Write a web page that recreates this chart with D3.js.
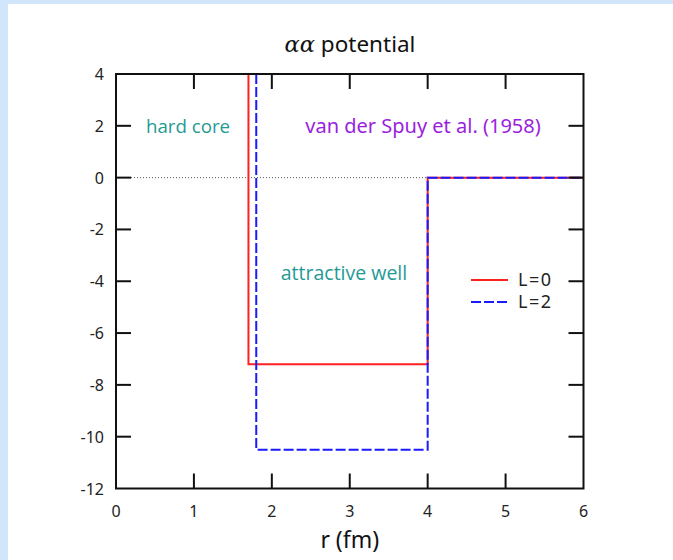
<!DOCTYPE html>
<html>
<head>
<meta charset="utf-8">
<script src="https://cdn.jsdelivr.net/npm/d3@7"></script>
<style>
  html, body { margin: 0; padding: 0; background: #fff; }
  svg { display: block; }
</style>
</head>
<body>
<svg id="chart" width="673" height="560"></svg>
<script>
// Square-well alpha-alpha potential (van der Spuy et al., 1958)
const xTicks = [0, 1, 2, 3, 4, 5, 6];
const yTicks = [-12, -10, -8, -6, -4, -2, 0, 2, 4];
const seriesNames = ["L=0", "L=2"];
const seriesColors = ["#ff2020", "#1a1aff"];
// r (fm), V (MeV) corners of each potential curve
const rL0 = [1.7, 1.7, 4.0, 4.0, 6.0];
const vL0 = [4.0, -7.2, -7.2, 0.0, 0.0];
const rL2 = [1.8, 1.8, 4.0, 4.0, 6.0];
const vL2 = [4.0, -10.5, -10.5, 0.0, 0.0];

const svg = d3.select("#chart");
const W = 673, H = 560;
const m = { left: 116, right: 583.5, top: 74, bottom: 488.5 };

// page frame
svg.append("rect").attr("width", W).attr("height", H).attr("fill", "#d2e6fb");
svg.append("rect").attr("x", 8).attr("y", 4).attr("width", W - 8).attr("height", H - 4).attr("fill", "#fff");

const x = d3.scaleLinear().domain([0, 6]).range([m.left, m.right]);
const y = d3.scaleLinear().domain([-12, 4]).range([m.bottom, m.top]);

const tickFont = "'Noto Sans', 'DejaVu Sans', sans-serif";
const noteFont = "'Open Sans', 'Noto Sans', sans-serif";

// zero reference line
svg.append("line")
  .attr("x1", x(0)).attr("x2", x(6)).attr("y1", y(0)).attr("y2", y(0))
  .attr("stroke", "#555").attr("stroke-width", 1).attr("stroke-dasharray", "1,2");

// curves
const line = d3.line().x(d => x(d[0])).y(d => y(d[1]));
const curveL0 = rL0.map((r, i) => [r, vL0[i]]);
const curveL2 = rL2.map((r, i) => [r, vL2[i]]);
svg.append("path").datum(curveL0).attr("d", line)
  .attr("fill", "none").attr("stroke", seriesColors[0]).attr("stroke-width", 2);
svg.append("path").datum(curveL2).attr("d", line)
  .attr("fill", "none").attr("stroke", seriesColors[1]).attr("stroke-width", 2)
  .attr("stroke-dasharray", "10,3");

// axes: inward ticks on all four sides
const tl = 15;
const axisG = svg.append("g").attr("stroke", "#111").attr("stroke-width", 2).attr("fill", "none");
axisG.append("rect").attr("x", x(0)).attr("y", y(4)).attr("width", x(6) - x(0)).attr("height", y(-12) - y(4));
xTicks.slice(1, -1).forEach(t => {
  axisG.append("line").attr("x1", x(t)).attr("x2", x(t)).attr("y1", y(-12)).attr("y2", y(-12) - tl);
  axisG.append("line").attr("x1", x(t)).attr("x2", x(t)).attr("y1", y(4)).attr("y2", y(4) + tl);
});
yTicks.slice(1, -1).forEach(t => {
  axisG.append("line").attr("x1", x(0)).attr("x2", x(0) + tl).attr("y1", y(t)).attr("y2", y(t));
  axisG.append("line").attr("x1", x(6)).attr("x2", x(6) - tl).attr("y1", y(t)).attr("y2", y(t));
});

// tick labels
svg.append("g").selectAll("text").data(xTicks).join("text")
  .attr("x", d => x(d)).attr("y", y(-12) + 28)
  .attr("text-anchor", "middle").attr("font-family", tickFont).attr("font-size", 16).attr("fill", "#222")
  .text(d => d);
svg.append("g").selectAll("text").data(yTicks).join("text")
  .attr("x", x(0) - 12).attr("y", d => y(d) + 6)
  .attr("text-anchor", "end").attr("font-family", tickFont).attr("font-size", 16).attr("fill", "#222")
  .text(d => d);

// title and axis label
const title = svg.append("text").attr("x", 350).attr("y", 52)
  .attr("text-anchor", "middle").attr("font-family", tickFont).attr("font-size", 22.5).attr("fill", "#111");
title.append("tspan").attr("font-family", "'DejaVu Serif', serif").attr("font-style", "italic").text("αα");
title.append("tspan").text(" potential");

svg.append("text").attr("x", x(3)).attr("y", 548)
  .attr("text-anchor", "middle").attr("font-family", tickFont).attr("font-size", 23).attr("fill", "#111")
  .text("r (fm)");

// annotations
svg.append("text").attr("x", 188).attr("y", 133).attr("text-anchor", "middle")
  .attr("font-family", noteFont).attr("font-size", 18.7).attr("fill", "#1f9a96")
  .text("hard core");
svg.append("text").attr("x", 423).attr("y", 133).attr("text-anchor", "middle")
  .attr("font-family", tickFont).attr("font-size", 20).attr("fill", "#9a1ee0")
  .text("van der Spuy et al. (1958)");
svg.append("text").attr("x", 344).attr("y", 280).attr("text-anchor", "middle")
  .attr("font-family", noteFont).attr("font-size", 19.5).attr("fill", "#1f9a96")
  .text("attractive well");

// legend
const legY = [280, 302];
seriesNames.forEach((name, i) => {
  svg.append("line").attr("x1", 471).attr("x2", 508).attr("y1", legY[i]).attr("y2", legY[i])
    .attr("stroke", seriesColors[i]).attr("stroke-width", 2)
    .attr("stroke-dasharray", i === 1 ? "10,3" : null);
  svg.append("text").attr("x", 518).attr("y", legY[i] + 6)
    .attr("font-family", tickFont).attr("font-size", 18).attr("letter-spacing", 1.5)
    .attr("fill", "#222").text(name);
});
</script>
</body>
</html>
